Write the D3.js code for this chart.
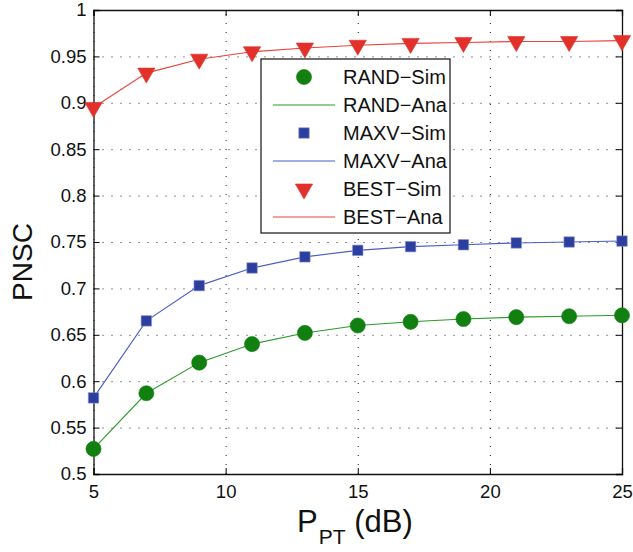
<!DOCTYPE html>
<html>
<head>
<meta charset="utf-8">
<script src="https://cdn.jsdelivr.net/npm/d3@7"></script>
<style>
  body { margin: 0; background: #fff; }
  svg { font-family: "Liberation Sans", Arial, Helvetica, sans-serif; }
</style>
</head>
<body>
<div id="chart"></div>
<script>
// power of primary transmitter (dB)
const ppt = [5, 7, 9, 11, 13, 15, 17, 19, 21, 23, 25];
const randSim = [0.527, 0.587, 0.620, 0.640, 0.652, 0.660, 0.664, 0.667, 0.669, 0.670, 0.671];
const maxvSim = [0.582, 0.665, 0.703, 0.722, 0.734, 0.741, 0.745, 0.747, 0.749, 0.750, 0.751];
const bestSim = [0.895, 0.932, 0.947, 0.955, 0.959, 0.962, 0.964, 0.965, 0.966, 0.966, 0.967];
const xTicks = [5, 10, 15, 20, 25];
const yTicks = [0.5, 0.55, 0.6, 0.65, 0.7, 0.75, 0.8, 0.85, 0.9, 0.95, 1];
const legendLabels = ["RAND\u2212Sim", "RAND\u2212Ana", "MAXV\u2212Sim", "MAXV\u2212Ana", "BEST\u2212Sim", "BEST\u2212Ana"];

const series = [
  { name: "RAND", values: randSim, marker: "circle", fill: "#118011", line: "#2a9a2a" },
  { name: "MAXV", values: maxvSim, marker: "square", fill: "#2c3e9e", line: "#4a5ec4" },
  { name: "BEST", values: bestSim, marker: "triangle", fill: "#e2312a", line: "#e8433a" }
];

const width = 633, height = 552;
const margin = { top: 10, right: 11, bottom: 78, left: 93.5 };
const w = width - margin.left - margin.right,
  h = height - margin.top - margin.bottom;

const x = d3.scaleLinear().domain([5, 25]).range([0, w]);
const y = d3.scaleLinear().domain([0.5, 1]).range([h, 0]);

const svg = d3.select("#chart").append("svg").attr("width", width).attr("height", height);
const g = svg.append("g").attr("transform", `translate(${margin.left},${margin.top})`);

// dotted grid
g.append("g")
  .attr("class", "grid")
  .attr("transform", `translate(0,${h})`)
  .call(d3.axisBottom(x).tickValues(xTicks).tickSize(-h).tickFormat(""));
g.append("g")
  .attr("class", "grid")
  .call(d3.axisLeft(y).tickValues(yTicks).tickSize(-w).tickFormat(""));
g.selectAll(".grid .domain").remove();
g.selectAll(".grid line")
  .attr("stroke", "#222")
  .attr("stroke-width", 1)
  .attr("stroke-dasharray", "1,8");

// axes with inward ticks (MATLAB box)
const fmt = d3.format("");
g.append("g").attr("transform", `translate(0,${h})`)
  .call(d3.axisBottom(x).tickValues(xTicks).tickSize(-6).tickPadding(11).tickFormat(fmt));
g.append("g")
  .call(d3.axisLeft(y).tickValues(yTicks).tickSize(-6).tickPadding(7).tickFormat(fmt));
g.append("g").call(d3.axisTop(x).tickValues(xTicks).tickSize(-6).tickFormat(""));
g.append("g").attr("transform", `translate(${w},0)`)
  .call(d3.axisRight(y).tickValues(yTicks).tickSize(-6).tickFormat(""));

g.selectAll(".domain").attr("stroke", "#111").attr("stroke-width", 1.3);
g.selectAll("text").attr("font-size", 18.5).attr("fill", "#111")
  .attr("font-family", "'Liberation Sans', Arial, sans-serif");

// curves
const line = d3.line().x((d, i) => x(ppt[i])).y(d => y(d));
const symSize = { circle: 180, square: 110, triangle: 130 };
function markerPath(type) {
  if (type === "circle") return d3.symbol(d3.symbolCircle, symSize.circle)();
  if (type === "square") return d3.symbol(d3.symbolSquare, symSize.square)();
  return d3.symbol(d3.symbolTriangle, symSize.triangle)();
}

series.forEach(s => {
  g.append("path")
    .datum(s.values)
    .attr("fill", "none")
    .attr("stroke", s.line)
    .attr("stroke-width", 1.1)
    .attr("d", line);
  g.selectAll(null)
    .data(s.values)
    .enter()
    .append("path")
    .attr("d", markerPath(s.marker))
    .attr("transform", (d, i) =>
      `translate(${x(ppt[i])},${y(d)})` + (s.marker === "triangle" ? " rotate(180)" : ""))
    .attr("fill", s.fill)
    .attr("stroke", s.marker === "square" ? "#8d97d0" : s.fill)
    .attr("stroke-width", 0.6);
});

// legend
const lg = svg.append("g").attr("transform", "translate(261,59)");
lg.append("rect").attr("width", 189).attr("height", 174)
  .attr("fill", "#fff").attr("stroke", "#111").attr("stroke-width", 1.2);
legendLabels.forEach((lab, i) => {
  const s = series[Math.floor(i / 2)];
  const cy = 18 + i * 28;
  const row = lg.append("g").attr("transform", `translate(0,${cy})`);
  if (i % 2 === 0) {
    row.append("path")
      .attr("d", markerPath(s.marker))
      .attr("transform", "translate(43,0)" + (s.marker === "triangle" ? " rotate(180)" : ""))
      .attr("fill", s.fill)
      .attr("stroke", s.marker === "square" ? "#8d97d0" : s.fill)
      .attr("stroke-width", 0.6);
  } else {
    row.append("line").attr("x1", 12).attr("x2", 74)
      .attr("stroke", s.line).attr("stroke-width", 1.1);
  }
  row.append("text").attr("x", 82).attr("y", 7)
    .attr("font-size", 20).attr("fill", "#111").text(lab);
});

// axis titles
const xl = svg.append("text")
  .attr("x", 297).attr("y", 532)
  .attr("font-size", 31).attr("fill", "#111");
xl.append("tspan").text("P");
xl.append("tspan").attr("font-size", 21).attr("dy", 12).attr("dx", 1).text("PT");
xl.append("tspan").attr("dy", -12).text(" (dB)");

svg.append("text")
  .attr("transform", "translate(32,262) rotate(-90)")
  .attr("text-anchor", "middle")
  .attr("font-size", 28).attr("fill", "#111")
  .text("PNSC");
</script>
</body>
</html>
